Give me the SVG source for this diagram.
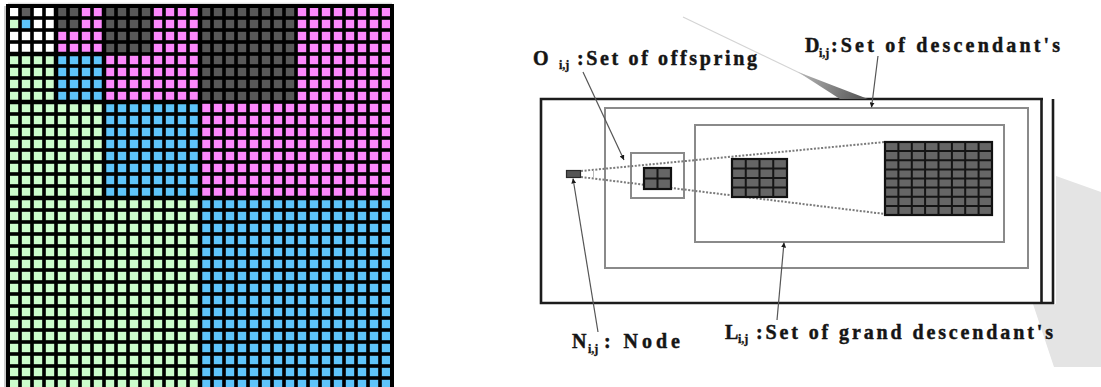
<svg xmlns="http://www.w3.org/2000/svg" width="1101" height="387" viewBox="0 0 1101 387">
  <style>
    .lbl { font-family: "Liberation Serif", "Times New Roman", serif; font-weight: bold; fill: #151515; stroke: #151515; stroke-width: 0.45; font-size: 20px; }
    .sub { font-size: 12px; stroke-width: 0.3; }
    .set { fill: none; stroke: #8a8a8a; stroke-width: 2; }
    .frame { fill: none; stroke: #1c1c1c; stroke-width: 2.6; }
    .lead { fill: none; stroke: #555; stroke-width: 1.2; }
    .dots { fill: none; stroke: #7a7a7a; stroke-width: 2; stroke-dasharray: 2 1.6; }
    .thick { stroke: #000; stroke-width: 4.5; }
    .cellg { fill: #666; stroke: #111; stroke-width: 2.2; }
    .gl { stroke: #151515; stroke-width: 2; }
  </style>
  <defs>
    <!-- black lattice laid over the coloured blocks -->
    <pattern id="lattice" x="8" y="6" width="12" height="12" patternUnits="userSpaceOnUse">
      <rect x="0" y="0" width="1.8" height="12" fill="#000"/>
      <rect x="10.2" y="0" width="1.8" height="12" fill="#000"/>
      <rect x="0" y="0" width="12" height="1.8" fill="#000"/>
      <rect x="0" y="10.2" width="12" height="1.8" fill="#000"/>
    </pattern>
    <marker id="tip" viewBox="0 0 6 6" refX="6" refY="3" markerWidth="5" markerHeight="5" markerUnits="userSpaceOnUse" orient="auto">
      <path d="M0,0 L6,3 L0,6 z" fill="#1a1a1a"/>
    </marker>
    <linearGradient id="wedge" gradientUnits="userSpaceOnUse" x1="790" y1="68" x2="860" y2="99">
      <stop offset="0" stop-color="#c4c4c4"/>
      <stop offset="1" stop-color="#5a5a5a"/>
    </linearGradient>
  </defs>

  <rect width="1101" height="387" fill="#fff"/>

  <!-- quadtree map of sub-bands -->
  <g id="band-map">
    <line x1="5" y1="6" x2="5" y2="387" stroke="#bbb" stroke-width="1.5"/>
    <line x1="8" y1="3.5" x2="392" y2="3.5" stroke="#ddd" stroke-width="1.5"/>
    <rect x="8" y="198" width="192" height="192" fill="#ccfccc"/>
    <rect x="200" y="198" width="192" height="192" fill="#5ec4fa"/>
    <rect x="200" y="6" width="192" height="192" fill="#fc88fc"/>
    <rect x="200" y="6" width="96" height="96" fill="#585858"/>
    <rect x="8" y="102" width="96" height="96" fill="#ccfccc"/>
    <rect x="104" y="102" width="96" height="96" fill="#5ec4fa"/>
    <rect x="104" y="6" width="96" height="96" fill="#fc88fc"/>
    <rect x="104" y="6" width="48" height="48" fill="#585858"/>
    <rect x="8" y="54" width="48" height="48" fill="#ccfccc"/>
    <rect x="56" y="54" width="48" height="48" fill="#5ec4fa"/>
    <rect x="56" y="6" width="48" height="48" fill="#fc88fc"/>
    <rect x="56" y="6" width="24" height="24" fill="#585858"/>
    <rect x="8" y="6" width="48" height="48" fill="#fff"/>
    <rect x="20" y="6" width="12" height="12" fill="#5e5e5e"/>
    <rect x="8" y="18" width="12" height="12" fill="#ccfccc"/>
    <rect x="20" y="18" width="12" height="12" fill="#5ec4fa"/>
    <rect x="8" y="6" width="384" height="384" fill="url(#lattice)"/>
    <line class="thick" x1="200" y1="6" x2="200" y2="390"/>
    <line class="thick" x1="8" y1="198" x2="392" y2="198"/>
    <line class="thick" x1="104" y1="6" x2="104" y2="198"/>
    <line class="thick" x1="8" y1="102" x2="200" y2="102"/>
    <line class="thick" x1="56" y1="6" x2="56" y2="102"/>
    <line class="thick" x1="8" y1="54" x2="104" y2="54"/>
    <rect x="8" y="6" width="384" height="384" fill="none" stroke="#000" stroke-width="4"/>
  </g>

  <!-- backdrop shadow behind the frame -->
  <polygon points="1056,176 1101,192 1101,367 1054,367 1033,304 1056,304" fill="#e4e4e4"/>

  <!-- outer frame -->
  <g id="frame">
    <rect x="541" y="99" width="500" height="204" fill="#fff"/>
    <polyline class="frame" points="1043,99 541,99 541,303 1054,303"/>
    <line class="frame" x1="1041.5" y1="99" x2="1041.5" y2="303"/>
    <line class="frame" x1="1053" y1="99" x2="1053" y2="304"/>
  </g>

  <g id="descendants">
    <rect class="set" x="605" y="108" width="423" height="160"/>
  </g>
  <g id="grand-descendants">
    <rect class="set" x="695" y="125" width="309" height="117"/>
  </g>
  <g id="offspring">
    <rect class="set" x="631" y="153" width="53" height="45"/>
  </g>

  <g id="connectors">
    <line class="dots" x1="581" y1="171" x2="885" y2="142"/>
    <line class="dots" x1="581" y1="177" x2="885" y2="214"/>
    <line x1="593.5" y1="170" x2="593.5" y2="178" stroke="#bbb" stroke-width="1"/>
    <line x1="683" y1="17" x2="806" y2="76" stroke="#d4d4d4" stroke-width="1.2"/>
    <polygon points="798,72 868,99 840,99" fill="url(#wedge)"/>
    <line class="lead" x1="583" y1="72" x2="624" y2="160" marker-end="url(#tip)"/>
    <line class="lead" x1="878" y1="56" x2="871.5" y2="107.5" marker-end="url(#tip)"/>
    <line class="lead" x1="598" y1="332" x2="573" y2="178.5" marker-end="url(#tip)"/>
    <line class="lead" x1="777" y1="320" x2="784" y2="242.5" marker-end="url(#tip)"/>
  </g>

  <!-- node and its coefficient blocks -->
  <g id="node">
    <rect x="566.5" y="170.5" width="14" height="7" fill="#555" stroke="#2a2a2a" stroke-width="1.2"/>
  </g>
  <g id="offspring-block">
    <rect class="cellg" x="644" y="168" width="27" height="21"/>
    <line class="gl" x1="657.5" y1="168" x2="657.5" y2="189"/>
    <line class="gl" x1="644" y1="178.5" x2="671" y2="178.5"/>
  </g>
  <g id="grandchild-block">
    <rect class="cellg" x="732" y="159" width="55" height="38"/>
    <path class="gl" d="M745.75,159V197M759.5,159V197M773.25,159V197M732,168.5H787M732,178H787M732,187.5H787"/>
  </g>
  <g id="descendant-block">
    <rect class="cellg" x="885" y="142" width="107" height="73"/>
    <path class="gl" d="M898.4,142V215M911.8,142V215M925.1,142V215M938.5,142V215M951.9,142V215M965.2,142V215M978.6,142V215M885,151.1H992M885,160.3H992M885,169.4H992M885,178.5H992M885,187.6H992M885,196.8H992M885,205.9H992"/>
  </g>

  <!-- labels -->
  <g id="label-o">
    <text class="lbl" x="533" y="65">O</text>
    <text class="lbl sub" x="559" y="69">i,j</text>
    <text class="lbl" x="577" y="65" textLength="180" lengthAdjust="spacing">:Set of offspring</text>
  </g>
  <g id="label-d">
    <text class="lbl" x="805" y="52">D</text>
    <text class="lbl sub" x="819" y="57">i,j</text>
    <text class="lbl" x="831" y="52" textLength="229" lengthAdjust="spacing">:Set of descendant's</text>
  </g>
  <g id="label-n">
    <text class="lbl" x="572" y="348">N</text>
    <text class="lbl sub" x="588" y="353">i,j</text>
    <text class="lbl" x="604" y="348" textLength="76" lengthAdjust="spacing">: Node</text>
  </g>
  <g id="label-l">
    <text class="lbl" x="725" y="339">L</text>
    <text class="lbl sub" x="738" y="343">i,j</text>
    <text class="lbl" x="756" y="339" textLength="297" lengthAdjust="spacing">:Set of grand descendant's</text>
  </g>
</svg>
